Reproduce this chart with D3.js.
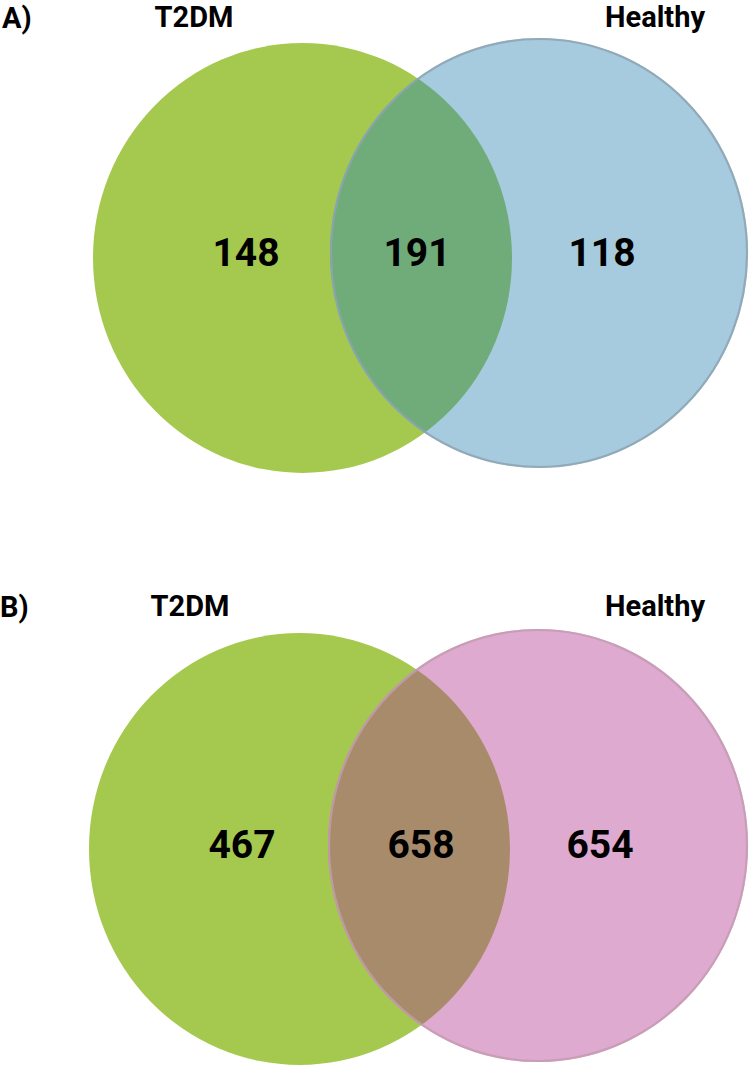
<!DOCTYPE html>
<html>
<head>
<meta charset="utf-8">
<script src="https://cdn.jsdelivr.net/npm/d3@7"></script>
<style>
  html, body { margin: 0; padding: 0; background: #ffffff; }
  svg { display: block; }
  text { font-family: Roboto, "Liberation Sans", sans-serif; font-weight: 700; fill: #000; }
</style>
</head>
<body>
<svg id="chart" width="750" height="1068"></svg>
<script>
// ---- data ----
const panels = ["A)", "B)"];
const setNames = ["T2DM", "Healthy"];
// counts: [only T2DM, shared, only Healthy]
const countsA = [148, 191, 118];
const countsB = [467, 658, 654];
const leftColors = ["#a5c94f", "#a5c94f"];
const rightColors = ["#a6cbde", "#dfaacf"];
const overlapColors = ["#6fac7a", "#a88b6a"];
const strokeColors = ["#8ea3b1", "#c49bb1"];

// ---- layout ----
const svg = d3.select("#chart");
const layouts = [
  { left: {cx: 302.5, cy: 258, rx: 209.5, ry: 215}, right: {cx: 539, cy: 253, rx: 209, ry: 215},
    labelY: 27, numY: 266, numX: [246, 417, 602], nameX: [194, 655], panelX: 2 },
  { left: {cx: 299.5, cy: 849, rx: 210.5, ry: 216}, right: {cx: 538, cy: 845.5, rx: 210, ry: 216.5},
    labelY: 616, numY: 858, numX: [242, 421, 600], nameX: [190, 655], panelX: 0 }
];
const allCounts = [countsA, countsB];

layouts.forEach((L, i) => {
  const g = svg.append("g");
  const id = "clip" + i;
  g.append("clipPath").attr("id", id)
    .append("ellipse")
    .attr("cx", L.right.cx).attr("cy", L.right.cy).attr("rx", L.right.rx).attr("ry", L.right.ry);

  // left set
  g.append("ellipse")
    .attr("cx", L.left.cx).attr("cy", L.left.cy).attr("rx", L.left.rx).attr("ry", L.left.ry)
    .attr("fill", leftColors[i]);
  // right set
  g.append("ellipse")
    .attr("cx", L.right.cx).attr("cy", L.right.cy).attr("rx", L.right.rx).attr("ry", L.right.ry)
    .attr("fill", rightColors[i]);
  // overlap
  g.append("ellipse")
    .attr("clip-path", `url(#${id})`)
    .attr("cx", L.left.cx).attr("cy", L.left.cy).attr("rx", L.left.rx).attr("ry", L.left.ry)
    .attr("fill", overlapColors[i]);
  // outline of right set
  g.append("ellipse")
    .attr("cx", L.right.cx).attr("cy", L.right.cy).attr("rx", L.right.rx - 1).attr("ry", L.right.ry - 1)
    .attr("fill", "none")
    .attr("stroke", strokeColors[i]).attr("stroke-width", 2.2).attr("stroke-opacity", 0.85);

  // count labels
  g.selectAll("text.num").data(allCounts[i]).join("text")
    .attr("class", "num")
    .attr("x", (d, j) => L.numX[j])
    .attr("y", L.numY)
    .attr("text-anchor", "middle")
    .attr("font-size", 39)
    .text(d => d);

  // set names
  g.selectAll("text.name").data(setNames).join("text")
    .attr("class", "name")
    .attr("x", (d, j) => L.nameX[j])
    .attr("y", L.labelY)
    .attr("text-anchor", "middle")
    .attr("font-size", 29)
    .text(d => d);

  // panel letter
  g.append("text")
    .attr("x", L.panelX)
    .attr("y", L.labelY + 1)
    .attr("font-size", 29)
    .text(panels[i]);
});
</script>
</body>
</html>
